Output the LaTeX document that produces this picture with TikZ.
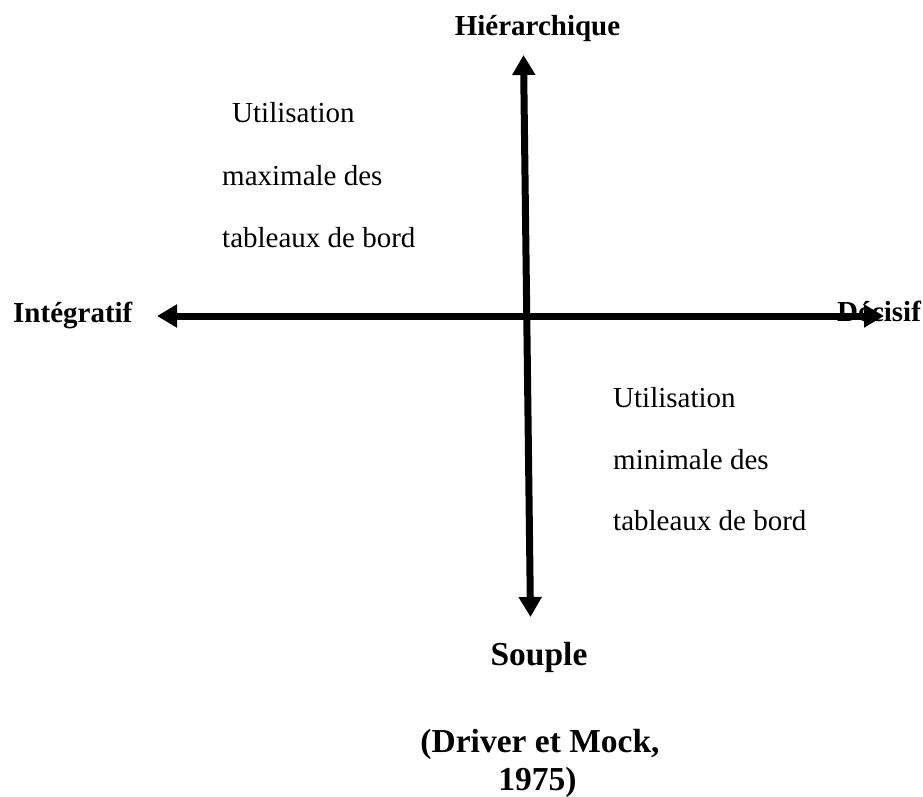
\documentclass[tikz,border=0pt]{standalone}
\usepackage{fontspec}
\setmainfont{Liberation Serif}
\usetikzlibrary{arrows.meta}
\tikzset{
  axisline/.style={line width=7pt, {Triangle[length=20pt,width=22pt]}-{Triangle[length=20pt,width=22pt]}},
  lbl/.style={inner sep=0pt, font=\fontsize{29}{35}\selectfont\bfseries},
  big/.style={inner sep=0pt, font=\fontsize{33.5}{40}\selectfont\bfseries},
  body/.style={inner sep=0pt, anchor=base west, font=\fontsize{29}{35}\selectfont}
}
\begin{document}
\begin{tikzpicture}[x=1pt,y=-1pt]
\useasboundingbox (0,0) rectangle (923,797);
% axes
\coordinate (top) at (523.5,55);
\coordinate (bot) at (530.5,617);
\coordinate (lft) at (157,316);
\coordinate (rgt) at (884,316);
% labels
\node[lbl, anchor=base] (hier) at (537.5,36) {Hiérarchique};
\node[lbl, anchor=base west] (integ) at (13,322) {Intégratif};
\node[lbl, anchor=base west] (decis) at (837,321) {Décisif};
\node[big, anchor=base] (souple) at (539,665) {Souple};
\node[big, anchor=base] (cite1) at (540,752) {(Driver et Mock,};
\node[big, anchor=base] (cite2) at (537.5,790) {1975)};
% quadrant texts
\node[body] (q1a) at (232,123) {Utilisation};
\node[body] (q1b) at (222,185) {maximale des};
\node[body] (q1c) at (222,247) {tableaux de bord};
\node[body] (q2a) at (613,407) {Utilisation};
\node[body] (q2b) at (613,469) {minimale des};
\node[body] (q2c) at (613,530) {tableaux de bord};
% arrows
\draw[axisline] (lft) -- (rgt);
\draw[axisline] (bot) -- (top);
\end{tikzpicture}
\end{document}
